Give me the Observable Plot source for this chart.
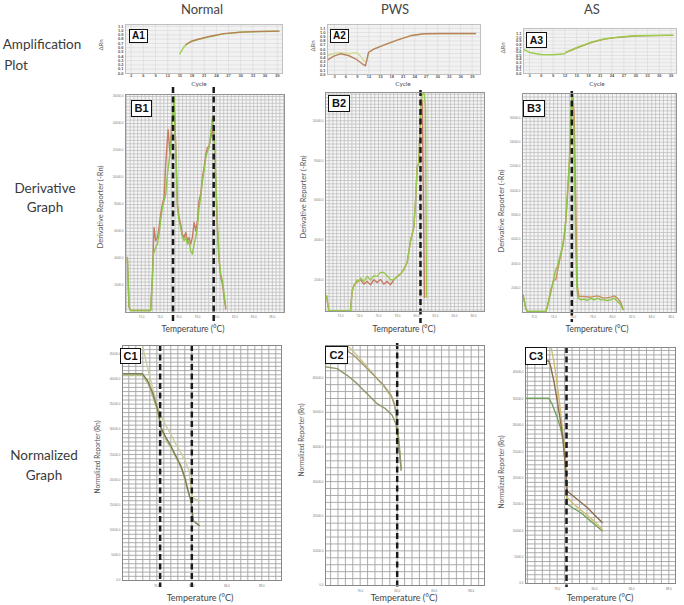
<!DOCTYPE html>
<html><head><meta charset="utf-8">
<script src="https://cdn.jsdelivr.net/npm/d3@7"></script>
<script src="https://cdn.jsdelivr.net/npm/@observablehq/plot@0.6"></script>
<style>
body{margin:0;background:#fff;}
#root{position:relative;width:684px;height:605px;overflow:hidden;background:#fff;font-family:Lato,"Open Sans",sans-serif;}
.abs{position:absolute;white-space:nowrap;line-height:1;}
.box{position:absolute;border:1.6px solid #111;background:#fff;font-family:"Liberation Sans",Arial,sans-serif;font-weight:bold;color:#111;display:flex;align-items:center;justify-content:center;box-sizing:border-box;line-height:1;}
svg{overflow:visible;}
</style></head><body><div id="root"></div>
<script>
// ---------- text ----------
const colNames = ["Normal", "PWS", "AS"];
const rowNames = [["Amplification", "Plot"], ["Derivative", "Graph"], ["Normalized", "Graph"]];
const panelIds = ["A1", "A2", "A3", "B1", "B2", "B3", "C1", "C2", "C3"];
const xLabelA = "Cycle", yLabelA = "ΔRn";
const xLabelBC = "Temperature (°C)";
const yLabelB = "Derivative Reporter (-Rn)";
const yLabelC = "Normalized Reporter (Rn)";

// ---------- ticks ----------
const cycleTicks = [3, 6, 9, 12, 15, 18, 21, 24, 27, 30, 33, 36, 39];
const dRnTicks = [0, 0.1, 0.2, 0.3, 0.4, 0.5, 0.6, 0.7, 0.8, 0.9, 1.0, 1.1];
const tempTicksB = [72, 74, 76, 78, 80, 82, 84, 86];
const derivTicksB = [2000, 4000, 6000, 8000, 10000, 12000, 14000, 16000];
const derivTicksB2 = [2000, 4000, 6000, 8000, 10000];
const tempTicksC = [76, 80, 84, 88];
const normTicksC1 = [0, 5000, 10000, 15000, 20000, 25000, 30000, 35000, 40000, 45000];
const normTicksC2 = [0, 10000, 20000, 30000, 40000, 50000, 60000];
const normTicksC3 = [0, 5000, 10000, 15000, 20000, 25000, 30000, 35000, 40000];

// ---------- melting peaks (dashed lines) ----------
const b1Peaks = [75.38, 79.73];
const b2Peaks = [80.42];
const b3Peaks = [75.85];
const c1Peaks = [76.38, 80.0];
const c2Peaks = [80.0];
const c3Peaks = [77.0];

// ---------- amplification plots [cycle, ΔRn] ----------
const a1Green = [[14.98,0.458],[15.9,0.605],[16.81,0.691],[17.87,0.744],[19.27,0.784],[22.55,0.861],[25.83,0.923],[29.95,0.961],[34.07,0.977],[39.39,0.984]];
const a1Red = [[16.5,0.675],[17.87,0.752],[19.27,0.792],[22.55,0.868],[25.83,0.928],[29.95,0.963],[34.07,0.975],[39.39,0.986]];
const a2Green = [[1.25,0.452],[2.82,0.500],[4.57,0.517],[6.74,0.500],[8.94,0.517],[9.80,0.436],[10.66,0.333],[11.37,0.293],[11.97,0.531],[13.28,0.612],[15.90,0.707],[19.40,0.826],[22.88,0.929],[26.36,0.969],[30.73,0.969],[39.88,0.969]];
const a2Red = [[1.25,0.350],[2.82,0.436],[4.57,0.493],[6.66,0.452],[8.49,0.374],[10.25,0.255],[11.11,0.207],[11.89,0.524],[13.28,0.602],[15.90,0.698],[19.40,0.817],[22.88,0.921],[26.36,0.969],[30.73,0.976],[39.88,0.976]];
const a3Green = [[1.55,0.667],[3.0,0.584],[5.80,0.528],[8.92,0.520],[11.90,0.548],[12.33,0.592],[15.28,0.731],[18.69,0.870],[22.07,0.965],[25.45,1.009],[29.70,1.048],[33.94,1.056],[39.44,1.065]];
const a3Red = [[12.33,0.590],[15.28,0.722],[18.69,0.860],[22.07,0.956],[25.45,1.002],[29.70,1.042],[33.94,1.052],[39.44,1.060]];

// ---------- derivative graphs [°C, -dRn/dT] ----------
const b1Green = [[70.50,4084],[70.68,394],[70.86,148],[72.99,148],[73.17,2362],[73.28,4330],[73.53,4822],[73.71,5068],[73.89,5806],[74.06,6790],[74.24,7774],[74.42,8266],[74.60,8758],[74.78,10234],[74.96,11218],[75.13,12202],[75.31,14170],[75.49,16000],[75.67,12202],[75.85,7774],[76.03,6790],[76.20,6298],[76.38,5560],[76.56,5314],[76.74,5560],[76.92,5068],[77.09,5314],[77.27,4576],[77.45,4330],[77.63,5068],[77.81,5560],[77.99,6298],[78.16,7774],[78.34,8512],[78.52,9742],[78.70,10480],[78.88,11464],[79.06,11956],[79.23,12202],[79.41,13186],[79.59,14416],[79.77,13432],[79.95,10234],[80.12,6790],[80.30,4084],[80.48,2854],[80.66,2362],[80.84,1378],[81.02,394]];
const b1Red = [[70.50,4084],[70.68,394],[70.86,148],[72.99,148],[73.17,2608],[73.35,6298],[73.53,5314],[73.71,5560],[73.89,6298],[74.06,7282],[74.24,8020],[74.42,8512],[74.60,10972],[74.85,13555],[75.06,11710],[75.24,13924],[75.49,15646],[75.67,12448],[75.85,8020],[76.03,7036],[76.20,6544],[76.38,5806],[76.56,5560],[76.74,5929],[76.92,5314],[77.09,5560],[77.27,5068],[77.45,5560],[77.63,6667],[77.81,6052],[77.99,6790],[78.16,8266],[78.34,8758],[78.52,9988],[78.70,10726],[78.88,11710],[79.06,12202],[79.23,12325],[79.41,12940],[79.59,13432],[79.77,13186],[79.95,9742],[80.12,6298],[80.30,3838],[80.48,2608],[80.66,2116],[80.84,1132],[81.02,271]];
const b2Green = [[70.53,1211],[70.77,457],[73.05,457],[73.23,1463],[73.40,1714],[73.76,2015],[73.93,1931],[74.11,2099],[74.46,1931],[74.81,2183],[75.16,1998],[75.51,2216],[75.86,2183],[76.21,2384],[76.56,2384],[76.91,2216],[77.26,2015],[77.62,2015],[77.97,2183],[78.32,2300],[78.67,2551],[79.02,2886],[79.37,3975],[79.72,4645],[79.90,5985],[80.07,7660],[80.25,7911],[80.42,10340],[80.60,11345],[80.84,11345],[80.95,10675],[81.05,1127]];
const b2Red = [[70.53,1211],[70.77,457],[73.05,457],[73.23,1463],[73.40,1714],[73.76,1931],[74.11,2015],[74.46,1797],[74.81,1931],[75.16,1764],[75.51,2015],[75.86,1881],[76.21,2032],[76.56,1797],[76.91,1931],[77.26,1764],[77.62,2015],[77.97,2183],[78.32,2300],[78.67,2551],[79.02,2886],[79.37,3975],[79.72,4645],[79.90,5985],[80.07,7660],[80.25,7911],[80.42,10340],[80.60,11010],[80.84,1127]];
const b3Green = [[70.88,1451],[71.15,356],[71.32,82],[73.19,82],[73.36,493],[73.70,1588],[74.04,2956],[74.21,3503],[74.38,3776],[74.55,4324],[74.72,4871],[74.89,5418],[75.06,6239],[75.23,7607],[75.40,9796],[75.57,11984],[75.68,14173],[75.74,16362],[75.85,17900],[76.02,16362],[76.15,10890],[76.25,5418],[76.36,2134],[76.49,1177],[76.76,1040],[77.10,1095],[77.44,986],[77.78,1150],[78.12,1040],[78.46,1177],[78.80,1040],[79.14,1040],[79.48,986],[79.82,1040],[80.17,1177],[80.51,904],[80.85,630],[81.08,220]];
const b3Red = [[70.88,1451],[71.15,356],[71.32,82],[73.19,82],[73.36,493],[73.70,1861],[74.04,2682],[74.21,2682],[74.38,3366],[74.55,4050],[74.72,4700],[74.89,5300],[75.06,6100],[75.23,7400],[75.40,9500],[75.57,11700],[75.74,14500],[75.95,17900],[76.09,16362],[76.22,10890],[76.32,5418],[76.42,2134],[76.59,1314],[77.10,1314],[77.78,1259],[78.46,1369],[79.14,1177],[79.82,1259],[80.17,1369],[80.51,1177],[80.85,821],[81.08,274]];

// ---------- normalized graphs [°C, Rn] ----------
const c1Top = [[74.36,46650],[74.93,42357],[75.50,38373],[76.08,34389],[76.46,32729],[77.03,30737],[77.60,29077],[78.17,27085],[78.74,25425],[79.31,23433],[79.70,21773],[79.89,18453],[80.08,16461],[80.46,16129],[80.84,15797]];
const c1Dark = [[72.19,41029],[74.36,41029],[74.93,39701],[75.50,37377],[76.08,34057],[76.46,30405],[77.03,28413],[77.60,26753],[78.17,24761],[78.74,22769],[79.20,20445],[79.58,17789],[79.89,15797],[80.19,11813],[80.57,11282],[80.84,10949]];
const c1Light = [[72.19,40697],[74.36,40697],[75.01,39037],[75.70,35717],[76.27,32729],[76.53,29741],[77.22,27417],[77.79,25757],[78.36,23765],[78.93,21773],[79.43,18453],[79.81,16461],[80.08,16129]];
const c2Top = [[73.33,69300],[74.23,68400],[75.31,66474],[76.39,63583],[77.47,60693],[78.55,57803],[79.35,54913],[79.71,52504],[79.92,48651],[80.14,42870],[80.36,36127],[80.43,33718]];
const c2Mid = [[74.59,69300],[75.67,66474],[76.75,63102],[77.83,59730],[78.73,56840],[79.46,53950],[79.78,51059],[80.00,46724],[80.21,40943],[80.36,35163]];
const c2Low = [[72.36,63102],[73.51,62620],[74.59,60693],[75.67,58285],[76.75,55395],[77.83,52504],[78.73,51059],[79.46,49132],[79.85,46724],[80.07,42870],[80.28,38053],[80.43,33236]];
const c3Brown = [[74.20,42178],[75.10,42178],[75.28,41231],[75.64,38390],[76.00,34603],[76.35,30815],[76.64,27027],[76.89,21977],[77.07,17558],[77.25,17242],[78.15,15980],[79.22,14401],[80.30,12507],[80.83,11560]];
const c3Tan = [[75.35,44703],[75.64,42178],[76.00,37759],[76.35,32709],[76.64,28290],[76.89,23871],[77.07,16296],[77.79,15032],[78.86,13454],[79.94,11876],[80.83,10297]];
const c3Green = [[72.59,35108],[75.10,35108],[75.46,33971],[76.00,31446],[76.35,29552],[76.64,27027],[76.89,21977],[77.07,15032],[77.61,14401],[78.51,13454],[79.58,11876],[80.83,9982]];

const root = document.getElementById("root");

function gridVals(d0, d1, origin, step) {
  const out = [];
  const k0 = Math.ceil((d0 - origin) / step - 1e-9), k1 = Math.floor((d1 - origin) / step + 1e-9);
  for (let k = k0; k <= k1; k++) out.push(origin + k * step);
  return out;
}

const STY = {
  A: {bg: "#f2f2f2", grid: "#d6d6d6", gw: 0.6, frame: "#c0c0c0", font: "4px", tick: "#555", fw: "bold"},
  B: {bg: "#f6f6f6", grid: "#b9b9b9", gw: 0.7, frame: "#949494", font: "3px", tick: "#777", fw: "normal"},
  C: {bg: "#ffffff", grid: "#a3a3a3", gw: 0.9, frame: "#888888", font: "3px", tick: "#777", fw: "normal"}
};

function panel(c) {
  const ml = 40, mr = 8, mt = 16, mb = 16;
  const [fx, fy, fw, fh] = c.frame;
  const s = STY[c.kind];
  const gx = gridVals(c.xDomain[0], c.xDomain[1], c.gxOrigin, c.gxStep);
  const gy = gridVals(c.yDomain[0], c.yDomain[1], c.gyOrigin, c.gyStep);
  const marks = [
    Plot.frame({fill: s.bg, stroke: null}),
    Plot.ruleX(gx, {stroke: s.grid, strokeWidth: s.gw}),
    Plot.ruleY(gy, {stroke: s.grid, strokeWidth: s.gw})
  ];
  for (const se of c.series) {
    marks.push(Plot.line(se.data, {x: d => d[0], y: d => d[1], stroke: se.color, strokeWidth: se.width || 1.4, clip: true}));
  }
  if (c.peaks) {
    marks.push(Plot.ruleX(c.peaks, {stroke: "#1a1a1a", strokeWidth: 2.5, strokeDasharray: "6,3.5", insetTop: -c.ext[0], insetBottom: -c.ext[1]}));
  }
  marks.push(Plot.frame({stroke: s.frame, strokeWidth: 1}));
  const svg = Plot.plot({
    width: ml + fw + mr, height: mt + fh + mb,
    marginLeft: ml, marginRight: mr, marginTop: mt, marginBottom: mb,
    x: {domain: c.xDomain, ticks: c.xTicks, tickFormat: c.xFmt, tickSize: 0, tickPadding: c.xPad, label: null},
    y: {domain: c.yDomain, ticks: c.yTicks, tickFormat: c.yFmt, tickSize: 0, tickPadding: c.yPad, label: null},
    style: {fontSize: s.font, color: s.tick, background: "transparent", fontFamily: "Liberation Sans, Arial, sans-serif", fontWeight: s.fw, overflow: "visible"},
    marks
  });
  svg.style.position = "absolute";
  svg.style.left = (fx - ml) + "px";
  svg.style.top = (fy - mt) + "px";
  svg.style.overflow = "visible";
  root.appendChild(svg);
}

const fmt1 = d3.format(".1f");
const fmtC = d => d.toFixed(0);

// ---------- A row ----------
const aCommon = {kind: "A", xTicks: cycleTicks, yTicks: dRnTicks, xFmt: fmtC, yFmt: fmt1, xPad: 1, yPad: 2, gxOrigin: 3, gxStep: 3, gyOrigin: 0, gyStep: 0.1};
panel({...aCommon, frame: [125, 24, 157, 49], xDomain: [1.6, 40.3], yDomain: [0, 1.14],
  series: [{data: a1Green, color: "#9fcf4f"}, {data: a1Red, color: "#b8805a"}]});
panel({...aCommon, frame: [327, 24, 153, 50], xDomain: [1.17, 41.19], yDomain: [0, 1.19],
  series: [{data: a2Green, color: "#d2dc96"}, {data: a2Red, color: "#b98362"}]});
panel({...aCommon, frame: [523, 28, 153, 45], xDomain: [1.47, 40.38], yDomain: [0, 1.25],
  series: [{data: a3Red, color: "#b8905a"}, {data: a3Green, color: "#9ccc4c"}]});

// ---------- B row ----------
const bCommon = {kind: "B", xTicks: tempTicksB, xFmt: fmt1, yFmt: fmt1, xPad: 3, yPad: 2, gxOrigin: 72, gxStep: 0.4};
panel({...bCommon, frame: [125, 94, 159, 218], xDomain: [70.3, 87.3], yDomain: [0, 16150], yTicks: derivTicksB,
  gyOrigin: 0, gyStep: 250, peaks: b1Peaks, ext: [7, 10],
  series: [{data: b1Red, color: "#c97b66"}, {data: b1Green, color: "#8fc44a"}]});
panel({...bCommon, frame: [325, 92, 159, 219], xDomain: [70.42, 87.16], yDomain: [420, 11420], yTicks: derivTicksB2,
  gyOrigin: 2000, gyStep: 2000 / 12, peaks: b2Peaks, ext: [2, 12],
  series: [{data: b2Red, color: "#c97b66"}, {data: b2Green, color: "#9cc84e"}]});
panel({...bCommon, frame: [522, 93, 154, 219], xDomain: [70.82, 86.53], yDomain: [0, 18000], yTicks: derivTicksB,
  gyOrigin: 0, gyStep: 2000 / 7, peaks: b3Peaks, ext: [2, 10],
  series: [{data: b3Red, color: "#c9905e"}, {data: b3Green, color: "#8cc448"}]});

// ---------- C row ----------
const cCommon = {kind: "C", xTicks: tempTicksC, xFmt: fmt1, yFmt: fmt1, xPad: 4, yPad: 2, gxOrigin: 76, gxStep: 0.8};
panel({...cCommon, frame: [122, 345, 159, 235], xDomain: [72.08, 90.25], yDomain: [0, 46650], yTicks: normTicksC1,
  gyOrigin: 0, gyStep: 5000 / 6, peaks: c1Peaks, ext: [0, 7],
  series: [{data: c1Top, color: "#cfcc9c"}, {data: c1Light, color: "#b4c486"}, {data: c1Dark, color: "#7f7c55"}]});
panel({...cCommon, frame: [325, 345, 159, 240], xDomain: [72.25, 89.44], yDomain: [0, 69300], yTicks: normTicksC2,
  gyOrigin: 0, gyStep: 2000, peaks: c2Peaks, ext: [2, 2],
  series: [{data: c2Mid, color: "#cdc48e"}, {data: c2Top, color: "#a29a70"}, {data: c2Low, color: "#8c9a6a"}]});
panel({...cCommon, frame: [525, 347, 150, 236], xDomain: [72.59, 88.72], yDomain: [0, 44735], yTicks: normTicksC3,
  gyOrigin: 0, gyStep: 5000 / 6, peaks: c3Peaks, ext: [0, 4],
  series: [{data: c3Green, color: "#74a262"}, {data: c3Tan, color: "#d2bc72"}, {data: c3Brown, color: "#8c6e50"}]});

// ---------- texts ----------
function txt(s, cx, cy, css, rot) {
  const d = document.createElement("div");
  d.className = "abs";
  d.textContent = s;
  d.style.cssText += `left:${cx}px;top:${cy}px;transform:translate(-50%,-50%)${rot ? " rotate(-90deg)" : ""};` + css;
  root.appendChild(d);
}
function box(s, x, y, w, h, fs) {
  const d = document.createElement("div");
  d.className = "box";
  d.textContent = s;
  d.style.cssText += `left:${x}px;top:${y}px;width:${w}px;height:${h}px;font-size:${fs}px;`;
  root.appendChild(d);
}

const colX = [202, 395, 592];
colNames.forEach((n, i) => txt(n, colX[i], 9, "font-size:13px;color:#444;"));

const rowCss = "font-size:13.5px;color:#3a3a3a;";
txt(rowNames[0][0], 42, 45, rowCss);
txt(rowNames[0][1], 16, 66, rowCss);
txt(rowNames[1][0], 45, 189, rowCss);
txt(rowNames[1][1], 45, 208, rowCss);
txt(rowNames[2][0], 44, 456, rowCss);
txt(rowNames[2][1], 44, 476, rowCss);

const cycX = [199, 403, 597];
cycX.forEach(x => txt(xLabelA, x, 83.5, "font-size:6.5px;color:#555;"));
[[101, 45], [313, 46], [503, 48]].forEach(([x, y]) => txt(yLabelA, x, y, "font-size:6px;color:#555;", true));

[[101, 207], [304, 197], [502, 211]].forEach(([x, y]) => txt(yLabelB, x, y, "font-size:7.6px;color:#555;", true));
[193, 404, 597].forEach(x => txt(xLabelBC, x, 328.5, "font-size:8.5px;color:#444;"));

[[97, 457], [301, 440], [501, 472]].forEach(([x, y]) => txt(yLabelC, x, y, "font-size:6.6px;color:#555;", true));
[200, 404, 600].forEach(x => txt(xLabelBC, x, 597, "font-size:9px;color:#444;"));

const boxes = [
  [129, 29, 19, 14, 10], [330, 29, 19, 14, 10], [526, 32, 21, 16, 10.5],
  [131, 100, 21, 17, 11], [328, 95, 22, 17, 11], [523, 100, 22, 17, 11],
  [120, 348, 21, 16, 11], [325, 346, 23, 18, 11], [525, 347, 22, 18, 11]
];
boxes.forEach((b, i) => box(panelIds[i], ...b));
</script></body></html>
